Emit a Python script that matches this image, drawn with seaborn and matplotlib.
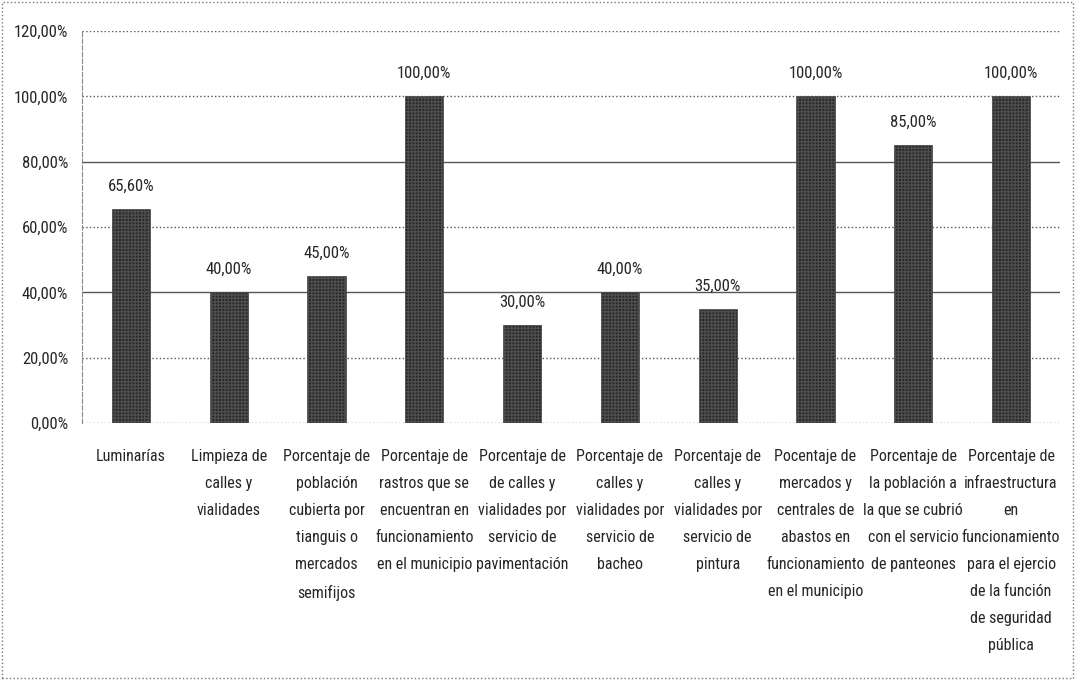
import matplotlib
matplotlib.use("Agg")
import matplotlib.pyplot as plt
import matplotlib.patches as mpatches
from matplotlib import font_manager as fm
import seaborn as sns
import pandas as pd
import numpy as np

categories = [
    "Luminarías",
    "Limpieza de\ncalles y\nvialidades",
    "Porcentaje de\npoblación\ncubierta por\ntianguis o\nmercados\nsemifijos",
    "Porcentaje de\nrastros que se\nencuentran en\nfuncionamiento\nen el municipio",
    "Porcentaje de\nde calles y\nvialidades por\nservicio de\npavimentación",
    "Porcentaje de\ncalles y\nvialidades por\nservicio de\nbacheo",
    "Porcentaje de\ncalles y\nvialidades por\nservicio de\npintura",
    "Pocentaje de\nmercados y\ncentrales de\nabastos en\nfuncionamiento\nen el municipio",
    "Porcentaje de\nla población a\nla que se cubrió\ncon el servicio\nde panteones",
    "Porcentaje de\ninfraestructura\nen\nfuncionamiento\npara el ejercio\nde la función\nde seguridad\npública",
]
values = [65.60, 40.00, 45.00, 100.00, 30.00, 40.00, 35.00, 100.00, 85.00, 100.00]
y_ticks = [0, 20, 40, 60, 80, 100, 120]
y_tick_labels = ["0,00%", "20,00%", "40,00%", "60,00%", "80,00%", "100,00%", "120,00%"]

sns.set_theme(style="white")
installed = {f.name for f in fm.fontManager.ttflist}
prefs = ["Liberation Sans Narrow", "Roboto Condensed", "PT Sans Narrow", "Archivo Narrow",
         "Fira Sans Condensed", "Open Sans Condensed", "Encode Sans Condensed",
         "Asap Condensed", "Barlow Semi Condensed", "Abel", "Liberation Sans"]
chosen = next((p for p in prefs if p in installed), "DejaVu Sans")
plt.rcParams["font.family"] = [chosen, "DejaVu Sans"]

df = pd.DataFrame({"cat": categories, "val": values})

fig = plt.figure(figsize=(10.75, 6.8), dpi=100)
ax = fig.add_axes([82 / 1075, 1 - 423 / 680, (1060 - 82) / 1075, (423 - 31) / 680])

sns.barplot(data=df, x="cat", y="val", ax=ax, color="#262626", width=0.39,
            saturation=1, edgecolor="#3a3a3a", linewidth=0.5)
for p in ax.patches:
    p.set_hatch("+++++")
    p.set_edgecolor("#4d4d4d")

ax.set_ylim(0, 120)
ax.set_xlim(-0.5, len(categories) - 0.5)
ax.set_yticks(y_ticks)
ax.set_yticklabels(y_tick_labels, fontsize=12, color="#262626")
ax.set_xticks(range(len(categories)))
ax.set_xticklabels(categories, fontsize=11.5, color="#262626", linespacing=2.0, va="top")
ax.tick_params(axis="x", which="major", length=0, pad=19)
ax.tick_params(axis="y", which="major", length=0, pad=10)
ax.set_xticks(np.arange(-0.5, len(categories) + 0.5, 1), minor=True)
ax.tick_params(axis="x", which="minor", length=5, color="#888888", direction="out")
ax.set_xlabel("")
ax.set_ylabel("")

line_styles = {0: ":", 20: ":", 40: "-", 60: ":", 80: "-", 100: ":", 120: ":"}
for t in y_ticks:
    ax.axhline(t, color="#555555", lw=1.0, ls=line_styles[t], zorder=0.5)

for s in ["top", "right", "bottom"]:
    ax.spines[s].set_visible(False)
ax.spines["left"].set_color("#888888")
ax.spines["left"].set_linestyle((0, (4, 2)))
ax.spines["left"].set_linewidth(0.8)

labels = [f"{v:.2f}".replace(".", ",") + "%" for v in values]
ax.bar_label(ax.containers[0], labels=labels, padding=11, fontsize=12, color="#262626")

fig.patches.append(mpatches.Rectangle((2 / 1075, 2 / 680), 1 - 4 / 1075, 1 - 4 / 680,
                                      transform=fig.transFigure, fill=False,
                                      edgecolor="#777777", lw=1.0, ls=":"))

fig.savefig("out.png", dpi=100)
